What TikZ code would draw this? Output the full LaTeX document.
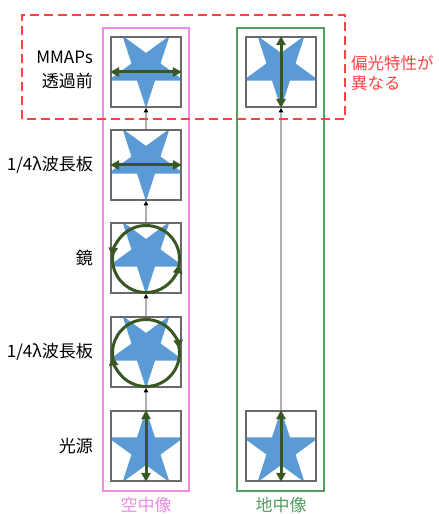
\documentclass[tikz,border=0pt]{standalone}
\usepackage{fontspec}
\setmainfont{Noto Sans CJK JP}
\usetikzlibrary{arrows.meta,shapes.geometric}
\definecolor{starblue}{RGB}{91,155,213}
\definecolor{polgreen}{RGB}{56,87,35}
\definecolor{boxgray}{RGB}{105,105,105}
\definecolor{linegray}{RGB}{175,175,175}
\definecolor{pinkline}{RGB}{238,138,228}
\definecolor{greenline}{RGB}{82,158,98}
\definecolor{redline}{RGB}{255,66,66}

\begin{document}
\begin{tikzpicture}[x=1pt,y=1pt,
        starshape/.style={star,star points=5,star point ratio=2.618,minimum size=80pt,inner sep=0pt,fill=starblue,draw=none},
        boxdown/.style={draw=boxgray,line width=1.8pt,minimum size=70pt,inner sep=0pt,
            path picture={\node[starshape,shape border rotate=180] at ([yshift=3.8pt]path picture bounding box.center) {};}},
        boxup/.style={draw=boxgray,line width=1.8pt,minimum size=70pt,inner sep=0pt,
            path picture={\node[starshape] at ([yshift=-3.8pt]path picture bounding box.center) {};}},
        pol/.style={polgreen,line width=3pt},
        polarrow/.style={pol,{Triangle[length=9pt,width=9pt]}-{Triangle[length=9pt,width=9pt]}},
        ray/.style={linegray,line width=1.3pt,-{Triangle[black,length=4.5pt,width=4.5pt]}},
        lbl/.style={font=\fontsize{17}{24}\selectfont,align=right,anchor=east,inner sep=0pt}]
        \useasboundingbox(0,0)rectangle(439,514);

        % frames
        \draw[pinkline,line width=2.8pt](103,23)rectangle(189,486);
        \draw[greenline,line width=2.8pt](237,23)rectangle(324,486);
        \node[text=pinkline,font=\fontsize{17}{20}\selectfont](sky)at(146,9){空中像};
        \node[text=greenline,font=\fontsize{17}{20}\selectfont](ground)at(281,9){地中像};

        % boxes
        \node[boxdown](a1)at(146,442){};
        \node[boxdown](a2)at(146,349){};
        \node[boxdown](a3)at(146,256){};
        \node[boxdown](a4)at(146,162){};
        \node[boxup](a5)at(146,68){};
        \node[boxdown](b1)at(281,442){};
        \node[boxup](b5)at(281,68){};

        % rays
        \draw[ray](a5)--(a4);
        \draw[ray](a4)--(a3);
        \draw[ray](a3)--(a2);
        \draw[ray](a2)--(a1);
        \draw[ray](b5)--(b1);

        % polarisation
        \draw[polarrow](a1.west)--(a1.east);
        \draw[polarrow](a2.west)--(a2.east);
        \draw[polarrow](b1.south)--(b1.north);
        \draw[polarrow](a5.south)--(a5.north);
        \draw[polarrow](b5.south)--(b5.north);
        \draw[pol,-{Triangle[length=9pt,width=9pt]}]([yshift=-1pt]a3.center)++(-12:33.5)arc[start angle=-12,end angle=176,radius=33.5];
        \draw[pol,-{Triangle[length=9pt,width=9pt]}]([yshift=-1pt]a3.center)++(170:33.5)arc[start angle=170,end angle=351,radius=33.5];
        \draw[pol,-{Triangle[length=9pt,width=9pt]}]([yshift=-1pt]a4.center)++(190:33.5)arc[start angle=190,end angle=7,radius=33.5];
        \draw[pol,-{Triangle[length=9pt,width=9pt]}]([yshift=-1pt]a4.center)++(12:33.5)arc[start angle=12,end angle=-174,radius=33.5];

        % labels
        \node[lbl](before)at(93,444){MMAPs\\透過前};
        \node[lbl](plate1)at(93,349){1/4λ波長板};
        \node[lbl](mirror)at(93,256){鏡};
        \node[lbl](plate2)at(93,162){1/4λ波長板};
        \node[lbl](source)at(93,68){光源};

        \draw[redline,line width=2.5pt,dash pattern=on 9pt off 5pt](22,395)rectangle(345,499);
        \node[text=redline,font=\fontsize{16.5}{20}\selectfont,align=left,anchor=west,inner sep=0pt](diff)at(351,441){偏光特性が\\異なる};
    \end{tikzpicture}
\end{document}
